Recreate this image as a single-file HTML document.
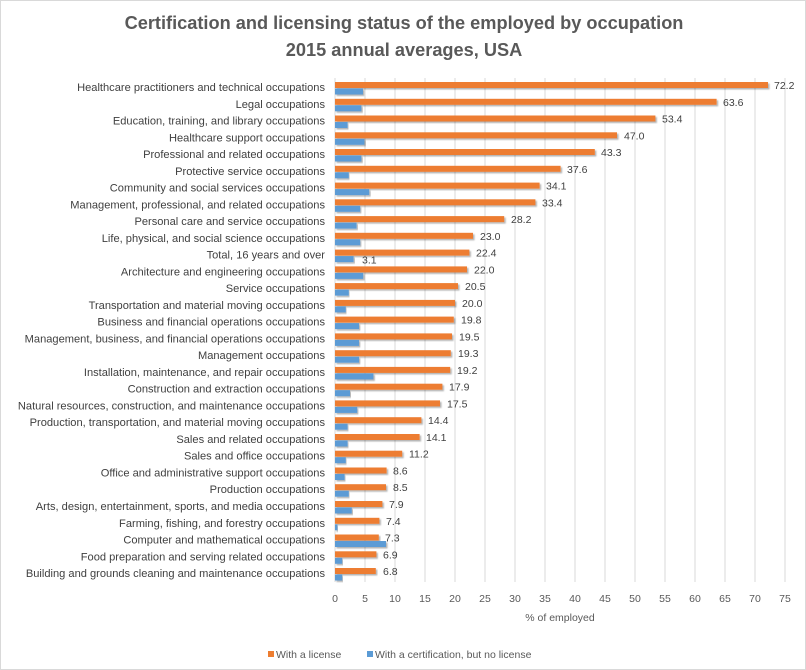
<!DOCTYPE html>
<html><head><meta charset="utf-8"><style>
body{margin:0;background:#fff}
svg{display:block;font-family:"Liberation Sans",Arial,sans-serif}
.l{font-size:11.1px;fill:#404040;text-anchor:end}
.d{font-size:10.5px;fill:#404040}
.t{font-size:10.5px;fill:#595959;text-anchor:middle}
</style></head><body>
<svg width="806" height="670" viewBox="0 0 806 670">
<defs><filter id="s" x="-5%" y="-20%" width="110%" height="160%"><feDropShadow dx="1.5" dy="1.5" stdDeviation="0.8" flood-color="#000" flood-opacity="0.3"/></filter></defs>
<rect x="0.5" y="0.5" width="805" height="669" fill="#fff" stroke="#d9d9d9"/>
<text x="404" y="29" text-anchor="middle" font-size="18.2" font-weight="bold" fill="#595959">Certification and licensing status of the employed by occupation</text>
<text x="404" y="56" text-anchor="middle" font-size="18.2" font-weight="bold" fill="#595959">2015 annual averages, USA</text>
<g stroke="#d9d9d9" stroke-width="1">
<line x1="335" y1="78" x2="335" y2="582"/><line x1="365" y1="78" x2="365" y2="582"/><line x1="395" y1="78" x2="395" y2="582"/><line x1="425" y1="78" x2="425" y2="582"/><line x1="455" y1="78" x2="455" y2="582"/><line x1="485" y1="78" x2="485" y2="582"/><line x1="515" y1="78" x2="515" y2="582"/><line x1="545" y1="78" x2="545" y2="582"/><line x1="575" y1="78" x2="575" y2="582"/><line x1="605" y1="78" x2="605" y2="582"/><line x1="635" y1="78" x2="635" y2="582"/><line x1="665" y1="78" x2="665" y2="582"/><line x1="695" y1="78" x2="695" y2="582"/><line x1="725" y1="78" x2="725" y2="582"/><line x1="755" y1="78" x2="755" y2="582"/><line x1="785" y1="78" x2="785" y2="582"/>
</g>
<g class="t">
<text x="335" y="602">0</text><text x="365" y="602">5</text><text x="395" y="602">10</text><text x="425" y="602">15</text><text x="455" y="602">20</text><text x="485" y="602">25</text><text x="515" y="602">30</text><text x="545" y="602">35</text><text x="575" y="602">40</text><text x="605" y="602">45</text><text x="635" y="602">50</text><text x="665" y="602">55</text><text x="695" y="602">60</text><text x="725" y="602">65</text><text x="755" y="602">70</text><text x="785" y="602">75</text>
<text x="560" y="621">% of employed</text>
</g>
<g id="rows">
<g transform="translate(0,82)"><rect x="335" y="0" width="433" height="6" fill="#ed7d31" filter="url(#s)"/><rect x="335" y="6.5" width="28" height="6" fill="#5b9bd5" filter="url(#s)"/><text class="l" x="325" y="9">Healthcare practitioners and technical occupations</text><text class="d" x="774" y="7">72.2</text></g>
<g transform="translate(0,98.8)"><rect x="335" y="0" width="381.6" height="6" fill="#ed7d31" filter="url(#s)"/><rect x="335" y="6.5" width="26.4" height="6" fill="#5b9bd5" filter="url(#s)"/><text class="l" x="325" y="9">Legal occupations</text><text class="d" x="723" y="7">63.6</text></g>
<g transform="translate(0,115.5)"><rect x="335" y="0" width="320.4" height="6" fill="#ed7d31" filter="url(#s)"/><rect x="335" y="6.5" width="12.6" height="6" fill="#5b9bd5" filter="url(#s)"/><text class="l" x="325" y="9">Education, training, and library occupations</text><text class="d" x="662" y="7">53.4</text></g>
<g transform="translate(0,132.3)"><rect x="335" y="0" width="282" height="6" fill="#ed7d31" filter="url(#s)"/><rect x="335" y="6.5" width="29.4" height="6" fill="#5b9bd5" filter="url(#s)"/><text class="l" x="325" y="9">Healthcare support occupations</text><text class="d" x="624" y="7">47.0</text></g>
<g transform="translate(0,149)"><rect x="335" y="0" width="259.8" height="6" fill="#ed7d31" filter="url(#s)"/><rect x="335" y="6.5" width="26.4" height="6" fill="#5b9bd5" filter="url(#s)"/><text class="l" x="325" y="9">Professional and related occupations</text><text class="d" x="601" y="7">43.3</text></g>
<g transform="translate(0,165.8)"><rect x="335" y="0" width="225.6" height="6" fill="#ed7d31" filter="url(#s)"/><rect x="335" y="6.5" width="13.8" height="6" fill="#5b9bd5" filter="url(#s)"/><text class="l" x="325" y="9">Protective service occupations</text><text class="d" x="567" y="7">37.6</text></g>
<g transform="translate(0,182.6)"><rect x="335" y="0" width="204.6" height="6" fill="#ed7d31" filter="url(#s)"/><rect x="335" y="6.5" width="34.2" height="6" fill="#5b9bd5" filter="url(#s)"/><text class="l" x="325" y="9">Community and social services occupations</text><text class="d" x="546" y="7">34.1</text></g>
<g transform="translate(0,199.3)"><rect x="335" y="0" width="200.4" height="6" fill="#ed7d31" filter="url(#s)"/><rect x="335" y="6.5" width="25.2" height="6" fill="#5b9bd5" filter="url(#s)"/><text class="l" x="325" y="9">Management, professional, and related occupations</text><text class="d" x="542" y="7">33.4</text></g>
<g transform="translate(0,216.1)"><rect x="335" y="0" width="169.2" height="6" fill="#ed7d31" filter="url(#s)"/><rect x="335" y="6.5" width="21.6" height="6" fill="#5b9bd5" filter="url(#s)"/><text class="l" x="325" y="9">Personal care and service occupations</text><text class="d" x="511" y="7">28.2</text></g>
<g transform="translate(0,232.8)"><rect x="335" y="0" width="138" height="6" fill="#ed7d31" filter="url(#s)"/><rect x="335" y="6.5" width="25.2" height="6" fill="#5b9bd5" filter="url(#s)"/><text class="l" x="325" y="9">Life, physical, and social science occupations</text><text class="d" x="480" y="7">23.0</text></g>
<g transform="translate(0,249.6)"><rect x="335" y="0" width="134.4" height="6" fill="#ed7d31" filter="url(#s)"/><rect x="335" y="6.5" width="18.6" height="6" fill="#5b9bd5" filter="url(#s)"/><text class="l" x="325" y="9">Total, 16 years and over</text><text class="d" x="476" y="7">22.4</text><text class="d" x="362" y="14">3.1</text></g>
<g transform="translate(0,266.4)"><rect x="335" y="0" width="132" height="6" fill="#ed7d31" filter="url(#s)"/><rect x="335" y="6.5" width="28.2" height="6" fill="#5b9bd5" filter="url(#s)"/><text class="l" x="325" y="9">Architecture and engineering occupations</text><text class="d" x="474" y="7">22.0</text></g>
<g transform="translate(0,283.1)"><rect x="335" y="0" width="123" height="6" fill="#ed7d31" filter="url(#s)"/><rect x="335" y="6.5" width="13.8" height="6" fill="#5b9bd5" filter="url(#s)"/><text class="l" x="325" y="9">Service occupations</text><text class="d" x="465" y="7">20.5</text></g>
<g transform="translate(0,299.9)"><rect x="335" y="0" width="120" height="6" fill="#ed7d31" filter="url(#s)"/><rect x="335" y="6.5" width="10.8" height="6" fill="#5b9bd5" filter="url(#s)"/><text class="l" x="325" y="9">Transportation and material moving occupations</text><text class="d" x="462" y="7">20.0</text></g>
<g transform="translate(0,316.6)"><rect x="335" y="0" width="118.8" height="6" fill="#ed7d31" filter="url(#s)"/><rect x="335" y="6.5" width="24" height="6" fill="#5b9bd5" filter="url(#s)"/><text class="l" x="325" y="9">Business and financial operations occupations</text><text class="d" x="461" y="7">19.8</text></g>
<g transform="translate(0,333.4)"><rect x="335" y="0" width="117" height="6" fill="#ed7d31" filter="url(#s)"/><rect x="335" y="6.5" width="24" height="6" fill="#5b9bd5" filter="url(#s)"/><text class="l" x="325" y="9">Management, business, and financial operations occupations</text><text class="d" x="459" y="7">19.5</text></g>
<g transform="translate(0,350.2)"><rect x="335" y="0" width="115.8" height="6" fill="#ed7d31" filter="url(#s)"/><rect x="335" y="6.5" width="24" height="6" fill="#5b9bd5" filter="url(#s)"/><text class="l" x="325" y="9">Management occupations</text><text class="d" x="458" y="7">19.3</text></g>
<g transform="translate(0,366.9)"><rect x="335" y="0" width="115.2" height="6" fill="#ed7d31" filter="url(#s)"/><rect x="335" y="6.5" width="38.4" height="6" fill="#5b9bd5" filter="url(#s)"/><text class="l" x="325" y="9">Installation, maintenance, and repair occupations</text><text class="d" x="457" y="7">19.2</text></g>
<g transform="translate(0,383.7)"><rect x="335" y="0" width="107.4" height="6" fill="#ed7d31" filter="url(#s)"/><rect x="335" y="6.5" width="15" height="6" fill="#5b9bd5" filter="url(#s)"/><text class="l" x="325" y="9">Construction and extraction occupations</text><text class="d" x="449" y="7">17.9</text></g>
<g transform="translate(0,400.4)"><rect x="335" y="0" width="105" height="6" fill="#ed7d31" filter="url(#s)"/><rect x="335" y="6.5" width="22.2" height="6" fill="#5b9bd5" filter="url(#s)"/><text class="l" x="325" y="9">Natural resources, construction, and maintenance occupations</text><text class="d" x="447" y="7">17.5</text></g>
<g transform="translate(0,417.2)"><rect x="335" y="0" width="86.4" height="6" fill="#ed7d31" filter="url(#s)"/><rect x="335" y="6.5" width="12.6" height="6" fill="#5b9bd5" filter="url(#s)"/><text class="l" x="325" y="9">Production, transportation, and material moving occupations</text><text class="d" x="428" y="7">14.4</text></g>
<g transform="translate(0,434)"><rect x="335" y="0" width="84.6" height="6" fill="#ed7d31" filter="url(#s)"/><rect x="335" y="6.5" width="12.6" height="6" fill="#5b9bd5" filter="url(#s)"/><text class="l" x="325" y="9">Sales and related occupations</text><text class="d" x="426" y="7">14.1</text></g>
<g transform="translate(0,450.7)"><rect x="335" y="0" width="67.2" height="6" fill="#ed7d31" filter="url(#s)"/><rect x="335" y="6.5" width="10.8" height="6" fill="#5b9bd5" filter="url(#s)"/><text class="l" x="325" y="9">Sales and office occupations</text><text class="d" x="409" y="7">11.2</text></g>
<g transform="translate(0,467.5)"><rect x="335" y="0" width="51.6" height="6" fill="#ed7d31" filter="url(#s)"/><rect x="335" y="6.5" width="9.6" height="6" fill="#5b9bd5" filter="url(#s)"/><text class="l" x="325" y="9">Office and administrative support occupations</text><text class="d" x="393" y="7">8.6</text></g>
<g transform="translate(0,484.2)"><rect x="335" y="0" width="51" height="6" fill="#ed7d31" filter="url(#s)"/><rect x="335" y="6.5" width="13.8" height="6" fill="#5b9bd5" filter="url(#s)"/><text class="l" x="325" y="9">Production occupations</text><text class="d" x="393" y="7">8.5</text></g>
<g transform="translate(0,501)"><rect x="335" y="0" width="47.4" height="6" fill="#ed7d31" filter="url(#s)"/><rect x="335" y="6.5" width="16.8" height="6" fill="#5b9bd5" filter="url(#s)"/><text class="l" x="325" y="9">Arts, design, entertainment, sports, and media occupations</text><text class="d" x="389" y="7">7.9</text></g>
<g transform="translate(0,517.8)"><rect x="335" y="0" width="44.4" height="6" fill="#ed7d31" filter="url(#s)"/><rect x="335" y="6.5" width="2.4" height="6" fill="#5b9bd5" filter="url(#s)"/><text class="l" x="325" y="9">Farming, fishing, and forestry occupations</text><text class="d" x="386" y="7">7.4</text></g>
<g transform="translate(0,534.5)"><rect x="335" y="0" width="43.8" height="6" fill="#ed7d31" filter="url(#s)"/><rect x="335" y="6.5" width="51" height="6" fill="#5b9bd5" filter="url(#s)"/><text class="l" x="325" y="9">Computer and mathematical occupations</text><text class="d" x="385" y="7">7.3</text></g>
<g transform="translate(0,551.3)"><rect x="335" y="0" width="41.4" height="6" fill="#ed7d31" filter="url(#s)"/><rect x="335" y="6.5" width="7.2" height="6" fill="#5b9bd5" filter="url(#s)"/><text class="l" x="325" y="9">Food preparation and serving related occupations</text><text class="d" x="383" y="7">6.9</text></g>
<g transform="translate(0,568)"><rect x="335" y="0" width="40.8" height="6" fill="#ed7d31" filter="url(#s)"/><rect x="335" y="6.5" width="7.2" height="6" fill="#5b9bd5" filter="url(#s)"/><text class="l" x="325" y="9">Building and grounds cleaning and maintenance occupations</text><text class="d" x="383" y="7">6.8</text></g>
</g>
<rect x="268" y="651" width="6" height="6" fill="#ed7d31"/>
<text x="276" y="658" font-size="10.5" fill="#595959">With a license</text>
<rect x="367" y="651" width="6" height="6" fill="#5b9bd5"/>
<text x="375" y="658" font-size="10.5" fill="#595959">With a certification, but no license</text>
</svg>
</body></html>
